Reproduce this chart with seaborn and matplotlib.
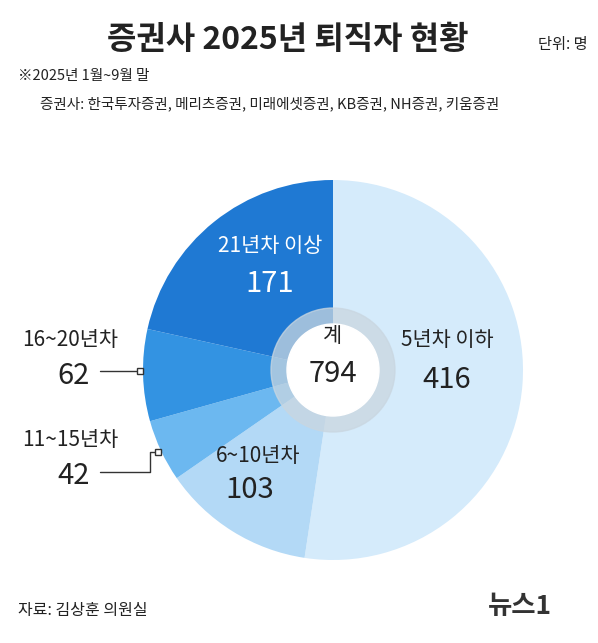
import matplotlib
matplotlib.use("Agg")
import matplotlib.pyplot as plt
import seaborn as sns
from matplotlib.patches import Circle

sns.set_theme(style="white")
plt.rcParams['font.family'] = ['Noto Sans CJK KR', 'DejaVu Sans']

categories = ["5년차 이하", "6~10년차", "11~15년차", "16~20년차", "21년차 이상"]
values = [416, 103, 42, 62, 171]
total = sum(values)
colors = ["#d5ebfb", "#b3d9f6", "#6cb8f0", "#3393e2", "#1f79d3"]

W, H = 598, 643
fig = plt.figure(figsize=(W/100, H/100), dpi=100)
fig.patch.set_facecolor("white")

def fx(x): return x / W
def fy(y): return 1 - y / H

cx, cy, r = 333, 370, 190
ax = fig.add_axes([fx(cx - r), fy(cy + r), 2*r/W, 2*r/H])
ax.pie(values, colors=colors, startangle=90, counterclock=False,
       wedgeprops=dict(linewidth=0))
ax.add_patch(Circle((0, 0), 62/r, color="#c9d6e0", alpha=0.75, zorder=3))
ax.add_patch(Circle((0, 0), 46/r, color="white", zorder=4))
ax.set_aspect("equal")
ax.set_xlim(-1, 1); ax.set_ylim(-1, 1)
ax.axis("off")

def t(x, y, s, size, color="#222222", weight="normal", ha="center"):
    fig.text(fx(x), fy(y), s, fontsize=size, color=color, weight=weight, ha=ha, va="center")

t(288, 40, "증권사 2025년 퇴직자 현황", 23, weight="bold")
t(588, 44, "단위: 명", 11, ha="right")
t(18, 76, "※2025년 1월~9월 말", 10.5, ha="left")
t(40, 104, "증권사: 한국투자증권, 메리츠증권, 미래에셋증권, KB증권, NH증권, 키움증권", 10.5, ha="left")

t(333, 336, "계", 15)
t(333, 374, str(total), 21, weight="medium")
t(447, 340, categories[0], 15)
t(447, 380, str(values[0]), 21, weight="medium")
t(258, 456, categories[1], 15)
t(250, 490, str(values[1]), 21, weight="medium")
t(270, 246, categories[4], 15, color="white")
t(270, 284, str(values[4]), 21, weight="medium", color="white")
t(70, 340, categories[3], 15)
t(74, 376, str(values[3]), 21, weight="medium")
t(70, 440, categories[2], 15)
t(74, 476, str(values[2]), 21, weight="medium")

fig.add_artist(plt.Line2D([fx(100), fx(140)], [fy(371), fy(371)], color="#333", lw=1))
fig.add_artist(plt.Line2D([fx(140)], [fy(371)], marker="s", ms=4, mfc="white", mec="#333"))
fig.add_artist(plt.Line2D([fx(100), fx(150), fx(150), fx(158)], [fy(472), fy(472), fy(452), fy(452)], color="#333", lw=1))
fig.add_artist(plt.Line2D([fx(158)], [fy(452)], marker="s", ms=4, mfc="white", mec="#333"))

t(18, 610, "자료: 김상훈 의원실", 11.5, ha="left")
t(520, 606, "뉴스1", 19, weight="bold", color="#333")

fig.savefig("out.png", dpi=100, facecolor="white")
